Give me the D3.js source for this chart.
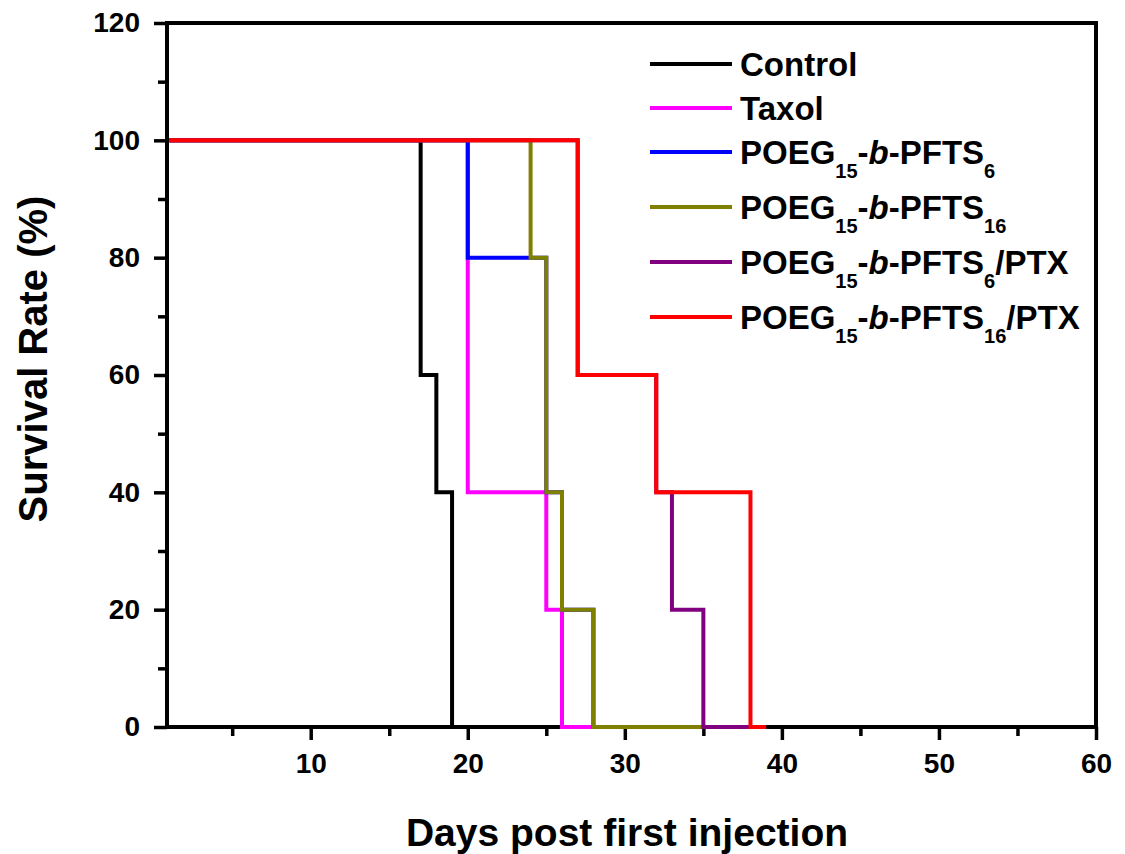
<!DOCTYPE html>
<html>
<head>
<meta charset="utf-8">
<script src="https://cdn.jsdelivr.net/npm/d3@7"></script>
<style>
  body { margin: 0; background: #fff; }
  text { font-family: Arial, "Liberation Sans", sans-serif; font-weight: bold; fill: #000; }
</style>
</head>
<body>
<div id="chart"></div>
<script>
// survival data (step curves)
const seriesNames = ["Control", "Taxol", "POEG15-b-PFTS6", "POEG15-b-PFTS16", "POEG15-b-PFTS6/PTX", "POEG15-b-PFTS16/PTX"];
const seriesColors = ["#000000", "#ff00ff", "#0000ff", "#808000", "#800080", "#ff0000"];

const controlDays = [1, 17, 18, 19];
const controlSurv = [100, 60, 40, 0];
const taxolDays = [1, 20, 25, 26, 28];
const taxolSurv = [100, 40, 20, 0, 0];
const pfts6Days = [1, 20, 25, 26, 28, 35];
const pfts6Surv = [100, 80, 40, 20, 0, 0];
const pfts16Days = [1, 24, 25, 26, 28, 35];
const pfts16Surv = [100, 80, 40, 20, 0, 0];
const pfts6PtxDays = [1, 27, 32, 33, 35, 38];
const pfts6PtxSurv = [100, 60, 40, 20, 0, 0];
const pfts16PtxDays = [1, 27, 32, 38, 39];
const pfts16PtxSurv = [100, 60, 40, 0, 0];

// legend labels split into pieces: [text, style]  (style: "" normal, "sub", "i")
const legendLabels = [
  [["Control", ""]],
  [["Taxol", ""]],
  [["POEG", ""], ["15", "sub"], ["-", ""], ["b", "i"], ["-PFTS", ""], ["6", "sub"]],
  [["POEG", ""], ["15", "sub"], ["-", ""], ["b", "i"], ["-PFTS", ""], ["16", "sub"]],
  [["POEG", ""], ["15", "sub"], ["-", ""], ["b", "i"], ["-PFTS", ""], ["6", "sub"], ["/PTX", ""]],
  [["POEG", ""], ["15", "sub"], ["-", ""], ["b", "i"], ["-PFTS", ""], ["16", "sub"], ["/PTX", ""]]
];

const xMajorTicks = [10, 20, 30, 40, 50, 60];
const xMinorTicks = [5, 15, 25, 35, 45, 55];
const yMajorTicks = [0, 20, 40, 60, 80, 100, 120];
const yMinorTicks = [10, 30, 50, 70, 90, 110];

const allDays = [controlDays, taxolDays, pfts6Days, pfts16Days, pfts6PtxDays, pfts16PtxDays];
const allSurv = [controlSurv, taxolSurv, pfts6Surv, pfts16Surv, pfts6PtxSurv, pfts16PtxSurv];

// canvas layout
const W = 1125, H = 854;
var margin = { top: 23, right: 29, bottom: 127, left: 167 };
const width = W - margin.left - margin.right;
const height = H - margin.top - margin.bottom;

var svg = d3.select("#chart")
    .append("svg")
    .attr("width", W)
    .attr("height", H)
    .append("g")
    .attr("transform", "translate(" + margin.left + "," + margin.top + ")");

var x = d3.scaleLinear().domain([0.85, 60]).range([0, width]);
var y = d3.scaleLinear().domain([0, 120]).range([height, 0]);

// minor ticks first (no labels)
svg.append("g")
    .attr("transform", "translate(0," + height + ")")
    .call(d3.axisBottom(x).tickValues(xMinorTicks).tickSize(9).tickFormat(""))
    .call(g => g.select(".domain").remove())
    .selectAll("line").attr("stroke-width", 3.5);

svg.append("g")
    .call(d3.axisLeft(y).tickValues(yMinorTicks).tickSize(9).tickFormat(""))
    .call(g => g.select(".domain").remove())
    .selectAll("line").attr("stroke-width", 3.5);

// major ticks
var xAxis = svg.append("g")
    .attr("transform", "translate(0," + height + ")")
    .call(d3.axisBottom(x).tickValues(xMajorTicks).tickSize(13).tickPadding(13))
    .call(g => g.select(".domain").remove());
xAxis.selectAll("line").attr("stroke-width", 3.5);
xAxis.selectAll("text").style("font-size", "28px").attr("font-family", null);

var yAxis = svg.append("g")
    .call(d3.axisLeft(y).tickValues(yMajorTicks).tickSize(13).tickPadding(14))
    .call(g => g.select(".domain").remove());
yAxis.selectAll("line").attr("stroke-width", 3.5);
yAxis.selectAll("text").style("font-size", "28px").attr("font-family", null);

// frame
svg.append("rect")
    .attr("x", 0).attr("y", 0)
    .attr("width", width).attr("height", height)
    .attr("fill", "none")
    .attr("stroke", "#000")
    .attr("stroke-width", 4);

// survival step lines
var line = d3.line()
    .curve(d3.curveStepAfter)
    .x(d => x(d[0]))
    .y(d => y(d[1]));

seriesNames.forEach(function (name, i) {
    var pts = allDays[i].map((d, j) => [d, allSurv[i][j]]);
    svg.append("path")
        .datum(pts)
        .attr("fill", "none")
        .attr("stroke", seriesColors[i])
        .attr("stroke-width", 4)
        .attr("stroke-linejoin", "miter")
        .attr("d", line);
});

// legend
var legend = svg.append("g").attr("transform", "translate(" + (650 - margin.left) + "," + (64 - margin.top) + ")");
var ly = 0;
legendLabels.forEach(function (parts, i) {
    if (i > 0) {
        var prevHasSub = legendLabels[i - 1].some(p => p[1] == "sub");
        ly += 44 + (prevHasSub ? 11 : 0);
    }
    legend.append("line")
        .attr("x1", 0).attr("x2", 82)
        .attr("y1", ly).attr("y2", ly)
        .attr("stroke", seriesColors[i])
        .attr("stroke-width", 4);
    var t = legend.append("text")
        .attr("x", 90)
        .attr("y", ly + 12)
        .style("font-size", "33px");
    var shifted = false;
    parts.forEach(function (p) {
        var ts = t.append("tspan").text(p[0]);
        if (p[1] == "sub") {
            ts.style("font-size", "20px").attr("dy", shifted ? 0 : 14);
            shifted = true;
        } else {
            if (shifted) { ts.attr("dy", -14); shifted = false; }
            if (p[1] == "i") ts.style("font-style", "italic");
        }
    });
});

// axis titles
svg.append("text")
    .attr("text-anchor", "middle")
    .attr("x", 627 - margin.left)
    .attr("y", 846 - margin.top)
    .style("font-size", "39px")
    .text("Days post first injection");

svg.append("text")
    .attr("text-anchor", "middle")
    .attr("transform", "translate(" + (47 - margin.left) + "," + (359 - margin.top) + ") rotate(-90)")
    .style("font-size", "40px")
    .text("Survival Rate (%)");
</script>
</body>
</html>
